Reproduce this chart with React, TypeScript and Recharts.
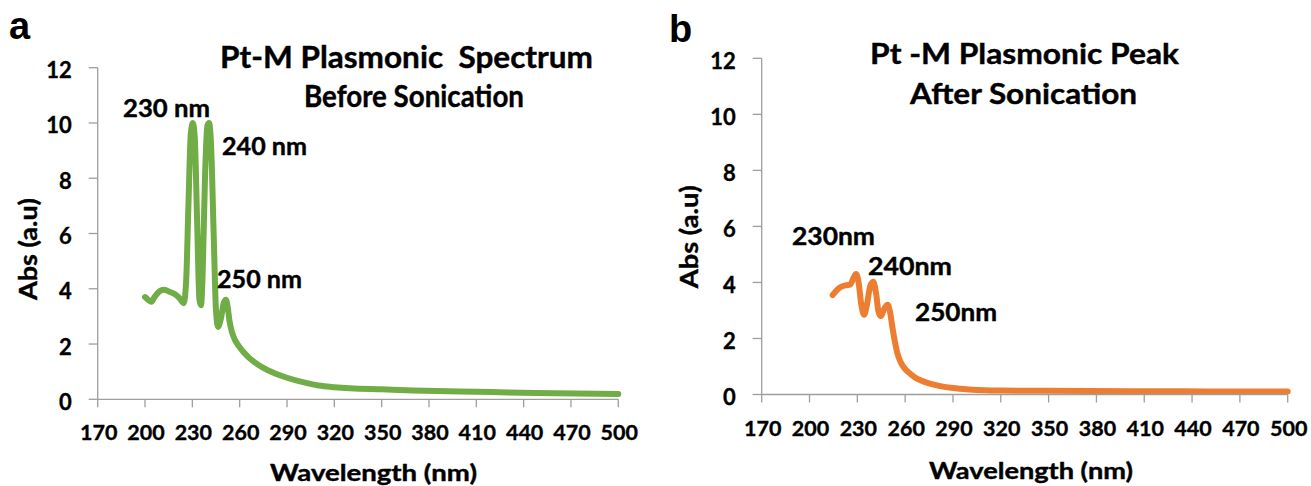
import React from 'react';
import { LineChart, Line, XAxis, YAxis } from 'recharts';

// panel a: before sonication
const wavelengthA = [200, 202, 204, 206, 209, 212, 216, 219, 222, 224.5, 226, 227.5, 229, 230.3, 231.5, 233, 234.5, 235.5, 236.5, 238, 239.5, 240.6, 242, 243.5, 245, 246.3, 248, 250, 251.3, 252.5, 253.5, 255, 257, 259, 262, 266, 270, 275, 280, 285, 290, 300, 310, 320, 330, 350, 370, 400, 430, 460, 500];
const absA = [3.7, 3.6, 3.53, 3.7, 3.9, 3.96, 3.88, 3.8, 3.65, 3.48, 4.2, 7.0, 9.6, 10.0, 9.5, 6.5, 3.6, 3.4, 4.5, 8.0, 9.9, 10.0, 9.0, 6.0, 3.2, 2.62, 2.9, 3.5, 3.6, 3.3, 2.85, 2.45, 2.15, 1.96, 1.74, 1.5, 1.32, 1.14, 1.0, 0.88, 0.78, 0.62, 0.5, 0.44, 0.4, 0.36, 0.32, 0.28, 0.25, 0.22, 0.19];

// panel b: after sonication
const wavelengthB = [214.5, 217, 220, 223, 225.5, 227.5, 229.2, 230.8, 232.5, 234.3, 236, 238, 240, 241.8, 243.3, 244.8, 246.8, 249, 250.5, 252, 253.5, 255, 257, 259, 262, 266, 270, 276, 282, 290, 300, 310, 320, 350, 400, 450, 500];
const absB = [3.55, 3.72, 3.85, 3.9, 3.92, 4.15, 4.3, 4.0, 3.2, 2.85, 3.2, 3.85, 4.02, 3.6, 2.95, 2.8, 3.05, 3.2, 2.95, 2.4, 1.9, 1.5, 1.18, 0.98, 0.8, 0.62, 0.5, 0.38, 0.3, 0.23, 0.18, 0.15, 0.14, 0.13, 0.12, 0.11, 0.11];

const xTicks = [170, 200, 230, 260, 290, 320, 350, 380, 410, 440, 470, 500];
const yTicks = [0, 2, 4, 6, 8, 10, 12];

const dataA = wavelengthA.map((wl, i) => ({ wl, abs: absA[i] }));
const dataB = wavelengthB.map((wl, i) => ({ wl, abs: absB[i] }));

const FONT = 'Lato, "Open Sans", sans-serif';
const AXIS = '#9E9E9E';

const XTick = (props: any) => {
  const { x, y, payload } = props;
  return (
    <text x={x + 1} y={y} dy={15} textAnchor="middle" fontFamily={FONT} fontWeight="bold" fontSize={21.5} fill="#000" stroke="#000" strokeWidth={0.35}>
      {payload.value}
    </text>
  );
};

const YTick = (props: any) => {
  const { x, y, payload } = props;
  return (
    <text x={x} y={y} dy={10.5} textAnchor="end" fontFamily={FONT} fontWeight="bold" fontSize={22} fill="#000" stroke="#000" strokeWidth={0.35}>
      {payload.value}
    </text>
  );
};

type PanelProps = {
  data: { wl: number; abs: number }[];
  color: string;
  left: number;
  width: number;
  margin: { top: number; right: number; bottom: number; left: number };
};

const Panel = ({ data, color, left, width, margin }: PanelProps) => (
  <div style={{ position: 'absolute', left, top: 0 }}>
    <LineChart width={width} height={486} data={data} margin={margin}>
      <XAxis
        dataKey="wl"
        type="number"
        domain={[170, 500]}
        ticks={xTicks}
        interval={0}
        height={60}
        stroke={AXIS}
        strokeWidth={1.3}
        tickSize={8}
        tickMargin={18}
        tick={<XTick />}
      />
      <YAxis
        type="number"
        domain={[0, 12]}
        ticks={yTicks}
        interval={0}
        width={60}
        stroke={AXIS}
        strokeWidth={1.3}
        tickSize={9}
        tickMargin={17}
        tick={<YTick />}
      />
      <Line
        type="monotone"
        dataKey="abs"
        stroke={color}
        strokeWidth={6}
        strokeLinecap="round"
        strokeLinejoin="round"
        dot={false}
        activeDot={false}
        isAnimationActive={false}
      />
    </LineChart>
  </div>
);

const T = ({ x, y, w, size, children, anchor = 'middle', rot }: any) => (
  <text
    x={rot ? 0 : x}
    y={rot ? 0 : y}
    transform={rot ? `translate(${x},${y}) rotate(-90)` : undefined}
    textAnchor={anchor}
    fontFamily={FONT}
    fontWeight="bold"
    fontSize={size}
    fill="#000"
    stroke="#000"
    strokeWidth={0.4}
    textLength={w}
    lengthAdjust={w ? 'spacingAndGlyphs' : undefined}
    style={{ whiteSpace: 'pre' }}
  >
    {children}
  </text>
);

export default function App() {
  return (
    <div style={{ position: 'absolute', left: 0, top: 0, width: 1311, height: 486, background: '#fff', overflow: 'hidden' }}>
      <Panel data={dataA} color="#70AD47" left={0} width={660} margin={{ top: 67.7, right: 41.7, bottom: 26.7, left: 37.7 }} />
      <Panel data={dataB} color="#ED7D31" left={660} width={651} margin={{ top: 58.3, right: 23.3, bottom: 31.5, left: 41.7 }} />
      <svg width={1311} height={486} style={{ position: 'absolute', left: 0, top: 0, pointerEvents: 'none' }}>
        {/* panel letters */}
        <text x={9} y={39} fontFamily='"Liberation Sans", Arial, sans-serif' fontWeight="bold" fontSize={38} fill="#000">a</text>
        <text x={669} y={41.5} fontFamily='"Liberation Sans", Arial, sans-serif' fontWeight="bold" fontSize={38} fill="#000">b</text>

        {/* panel a */}
        <T x={406.5} y={68} w={373} size={30}>{'Pt-M Plasmonic  Spectrum'}</T>
        <T x={414} y={107} w={220} size={30}>Before Sonication</T>
        <T x={166.5} y={117} w={87} size={24}>230 nm</T>
        <T x={264.5} y={155} w={85} size={24}>240 nm</T>
        <T x={259.5} y={288} w={85} size={24}>250 nm</T>
        <T x={36.7} y={249} w={102} size={25} rot>Abs (a.u)</T>
        <T x={373.5} y={481} w={207} size={22}>Wavelength (nm)</T>

        {/* panel b */}
        <T x={1024.5} y={63.5} w={309} size={29}>Pt -M Plasmonic Peak</T>
        <T x={1023.5} y={104} w={227} size={29}>After Sonication</T>
        <T x={833.5} y={245} w={83} size={24}>230nm</T>
        <T x={910} y={275} w={84} size={24}>240nm</T>
        <T x={956} y={321} w={82} size={24}>250nm</T>
        <T x={697.5} y={236.7} w={103} size={25} rot>Abs (a.u)</T>
        <T x={1031} y={479} w={204} size={22}>Wavelength (nm)</T>
      </svg>
    </div>
  );
}
